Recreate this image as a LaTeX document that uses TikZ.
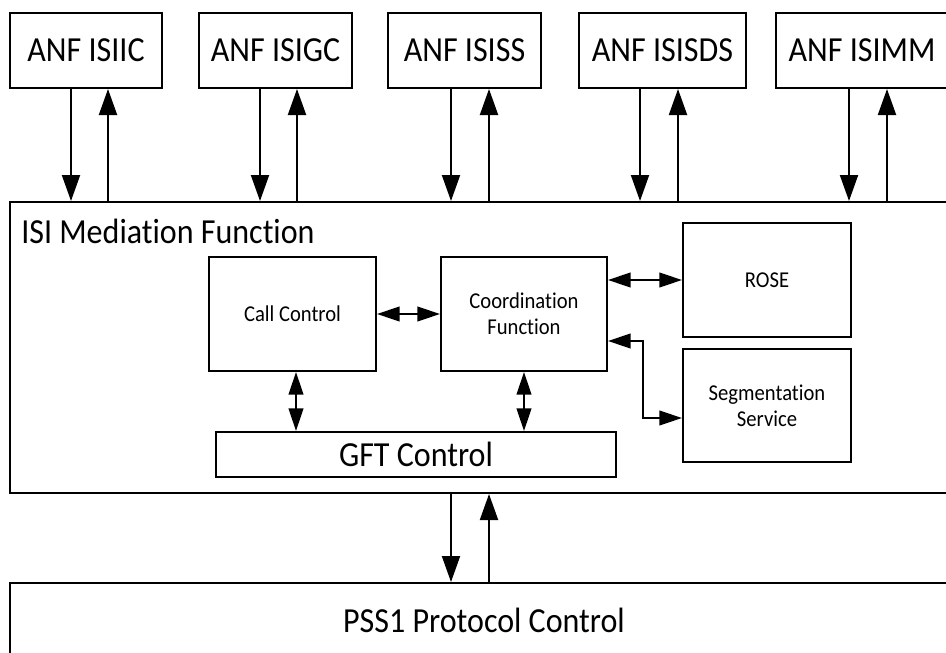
\documentclass[tikz,border=0pt]{standalone}
\usepackage{fontspec}
\setmainfont{Carlito}[FakeStretch=0.91, Ligatures=NoCommon]
\usetikzlibrary{arrows.meta}

\tikzset{
	box/.style={draw, line width=1.5pt, inner sep=0pt, align=center},
	bigtext/.style={font=\fontsize{26.4}{30}\selectfont},
	smalltext/.style={font=\fontsize{17}{19.5}\selectfont},
	sig/.style={line width=1.5pt, -{Triangle[length=19.5pt, width=13.5pt]}},
	dbl/.style={line width=1.5pt, {Triangle[length=17pt, width=11pt]}-{Triangle[length=17pt, width=11pt]}}
}

\begin{document}
\begin{tikzpicture}[x=0.75pt, y=-0.75pt]
					\useasboundingbox (0,0) rectangle (946,653);
					\clip (0,0) rectangle (946,653);
					
					% ANF boxes
					\node[box, bigtext, minimum width=114pt, minimum height=56.25pt] (isiic) at (86,50.5) {ANF ISIIC};
					\node[box, bigtext, minimum width=114.75pt, minimum height=56.25pt] (isigc) at (275.5,50.5) {ANF ISIGC};
					\node[box, bigtext, minimum width=114.75pt, minimum height=56.25pt] (isiss) at (464.5,50.5) {ANF ISISS};
					\node[box, bigtext, minimum width=125.25pt, minimum height=56.25pt] (isisds) at (662.5,50.5) {ANF ISISDS};
					\node[box, bigtext, minimum width=129pt, minimum height=56.25pt] (isimm) at (862,50.5) {ANF ISIMM};
					
					% mediation function
					\node[box, minimum width=711pt, minimum height=218.25pt] (med) at (484,347.5) {};
					\node[bigtext, anchor=base west, inner sep=0pt] (medlabel) at (21,243) {ISI Mediation Function};
					
					\node[box, smalltext, minimum width=125.25pt, minimum height=85.5pt] (call) at (292.5,314) {Call Control};
					\node[box, smalltext, minimum width=124.5pt, minimum height=85.5pt] (coord) at (524,314) {Coordination\\Function};
					\node[box, smalltext, minimum width=126pt, minimum height=85.5pt] (rose) at (767,280) {ROSE};
					\node[box, smalltext, minimum width=126pt, minimum height=84.75pt] (seg) at (767,405.5) {Segmentation\\Service};
					\node[box, bigtext, minimum width=300pt, minimum height=33.75pt] (gft) at (416,454.5) {GFT Control};
					
					\node[box, bigtext, minimum width=711pt, minimum height=55.5pt] (pss) at (484,620) {PSS1 Protocol Control};
					
					% signals between ANFs and mediation function
					\draw[sig] (isiic.south -| 71,0) -- (med.north -| 71,0);
					\draw[sig] (med.north -| 108,0) -- (isiic.south -| 108,0);
					\draw[sig] (isigc.south -| 260,0) -- (med.north -| 260,0);
					\draw[sig] (med.north -| 297,0) -- (isigc.south -| 297,0);
					\draw[sig] (isiss.south -| 451,0) -- (med.north -| 451,0);
					\draw[sig] (med.north -| 489,0) -- (isiss.south -| 489,0);
					\draw[sig] (isisds.south -| 640,0) -- (med.north -| 640,0);
					\draw[sig] (med.north -| 678,0) -- (isisds.south -| 678,0);
					\draw[sig] (isimm.south -| 849,0) -- (med.north -| 849,0);
					\draw[sig] (med.north -| 887,0) -- (isimm.south -| 887,0);
					
					% inside
					\draw[dbl] (call.east) -- (coord.west);
					\draw[dbl] (coord.east |- rose.west) -- (rose.west);
					\draw[dbl] (coord.east |- 0,341) -- (643,341) |- (seg.west |- 0,418);
					\draw[dbl] (call.south -| 296,0) -- (gft.north -| 296,0);
					\draw[dbl] (coord.south) -- (gft.north -| coord.south);
					
					% to PSS1
					\draw[sig] (med.south -| 451,0) -- (pss.north -| 451,0);
					\draw[sig] (pss.north -| 489,0) -- (med.south -| 489,0);
				\end{tikzpicture}
\end{document}
